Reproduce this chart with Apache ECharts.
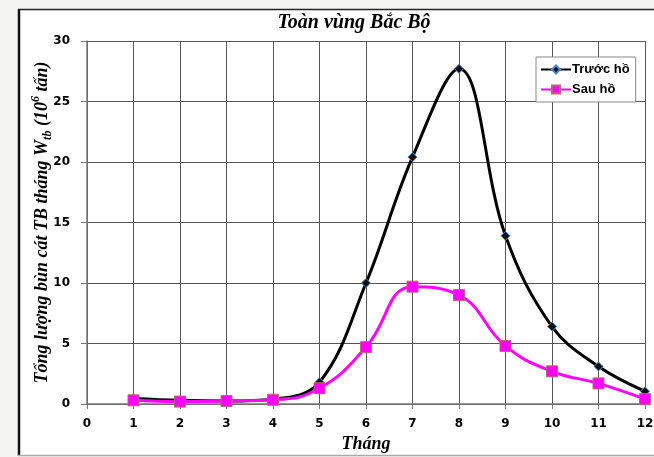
<!DOCTYPE html>
<html>
<head>
<meta charset="utf-8">
<script src="https://cdn.jsdelivr.net/npm/echarts@6/dist/echarts.min.js"></script>
<style>
	html, body { margin: 0; padding: 0; background: #f4f4f2; }
	#chart { width: 654px; height: 457px; }
</style>
</head>
<body>
<div id="chart"></div>
<script>
// months 1..12
const months = [1, 2, 3, 4, 5, 6, 7, 8, 9, 10, 11, 12];
const truocHo = [0.45, 0.3, 0.25, 0.4, 1.8, 10.0, 20.4, 27.7, 13.9, 6.4, 3.1, 1.05];
const sauHo = [0.3, 0.2, 0.25, 0.35, 1.3, 4.7, 9.7, 9.0, 4.8, 2.7, 1.7, 0.4];
const seriesNames = ['Trước hồ', 'Sau hồ'];

const chart = echarts.init(document.getElementById('chart'));

const serif = '"Liberation Serif", "DejaVu Serif", serif';
const labelFont = '"DejaVu Sans", sans-serif';

chart.setOption({
	backgroundColor: 'transparent',
	animation: false,
	graphic: [
		{
			// white frame behind the chart
			type: 'rect',
			z: -10,
			shape: { x: 19, y: 10, width: 640, height: 445 },
			style: { fill: '#fff', stroke: null }
		},
		{
			type: 'line',
			z: -5,
			shape: { x1: 19, y1: 9, x2: 19, y2: 456 },
			style: { stroke: '#111', lineWidth: 2.5 }
		},
		{
			type: 'line',
			z: -5,
			shape: { x1: 18, y1: 9.5, x2: 654, y2: 9.5 },
			style: { stroke: '#222', lineWidth: 1.5 }
		},
		{
			type: 'line',
			z: -5,
			shape: { x1: 18, y1: 455.5, x2: 654, y2: 455.5 },
			style: { stroke: '#aaa', lineWidth: 1.5 }
		}
	],
	title: {
		text: 'Toàn vùng Bắc Bộ',
		left: 349,
		top: 8,
		textAlign: 'center',
		textStyle: {
			fontFamily: serif,
			fontStyle: 'italic',
			fontWeight: 'bold',
			fontSize: 20,
			color: '#000'
		}
	},
	legend: {
		orient: 'vertical',
		left: 536,
		top: 57,
		width: 100,
		padding: [6, 6, 6, 4],
		itemGap: 7,
		itemWidth: 30,
		itemHeight: 10,
		borderColor: '#888',
		borderWidth: 1,
		backgroundColor: '#fff',
		data: seriesNames,
		textStyle: {
			fontFamily: '"Liberation Sans", Arial, sans-serif',
			fontWeight: 'bold',
			fontSize: 13,
			color: '#000',
			padding: [0, 0, 0, -4]
		}
	},
	grid: {
		left: 87,
		right: 9,
		top: 41,
		bottom: 53,
		containLabel: false,
		outerBoundsMode: 'none'
	},
	xAxis: {
		type: 'value',
		min: 0,
		max: 12,
		interval: 1,
		name: 'Tháng',
		nameLocation: 'middle',
		nameGap: 30,
		nameTextStyle: {
			fontFamily: serif,
			fontStyle: 'italic',
			fontWeight: 'bold',
			fontSize: 18,
			color: '#000'
		},
		axisLine: { show: true, lineStyle: { color: '#777', width: 1.5 } },
		axisTick: { show: true, length: 5, lineStyle: { color: '#777' } },
		axisLabel: {
			margin: 14,
			fontFamily: labelFont,
			fontWeight: 'bold',
			fontSize: 12,
			color: '#000'
		},
		splitLine: { show: true, lineStyle: { color: '#555', width: 1 } }
	},
	yAxis: {
		type: 'value',
		min: 0,
		max: 30,
		interval: 5,
		name: '{a|Tổng lượng bùn cát TB tháng W}{s|tb}{a| (10}{p|6}{a| tấn)}',
		nameLocation: 'middle',
		nameRotate: 90,
		nameGap: 33,
		nameMoveOverlap: false,
		nameTextStyle: {
			fontFamily: serif,
			fontStyle: 'italic',
			fontWeight: 'bold',
			fontSize: 18,
			color: '#000',
			rich: {
				a: { fontFamily: serif, fontStyle: 'italic', fontWeight: 'bold', fontSize: 18, lineHeight: 24, color: '#000' },
				s: { fontFamily: serif, fontStyle: 'italic', fontWeight: 'bold', fontSize: 12, lineHeight: 16, verticalAlign: 'bottom', color: '#000' },
				p: { fontFamily: serif, fontStyle: 'italic', fontWeight: 'bold', fontSize: 12, lineHeight: 16, verticalAlign: 'top', color: '#000' }
			}
		},
		axisLine: { show: true, lineStyle: { color: '#777', width: 1.5 } },
		axisTick: { show: true, inside: false, length: 6, lineStyle: { color: '#777' } },
		axisLabel: {
			margin: 17,
			fontFamily: labelFont,
			fontWeight: 'bold',
			fontSize: 12,
			color: '#000'
		},
		splitLine: { show: true, lineStyle: { color: '#555', width: 1 } }
	},
	series: [
		{
			name: seriesNames[0],
			type: 'line',
			smooth: 0.38,
			data: months.map((m, i) => [m, truocHo[i]]),
			symbol: 'diamond',
			symbolSize: 9,
			lineStyle: { color: '#000', width: 3 },
			itemStyle: { color: '#111', borderColor: '#4f81bd', borderWidth: 1 },
			z: 3
		},
		{
			name: seriesNames[1],
			type: 'line',
			smooth: 0.45,
			data: months.map((m, i) => [m, sauHo[i]]),
			symbol: 'rect',
			symbolSize: 11,
			lineStyle: { color: '#ff00ff', width: 3 },
			itemStyle: { color: '#ff00ff', borderColor: '#c0607a', borderWidth: 1 },
			z: 4
		}
	]
});
</script>
</body>
</html>
